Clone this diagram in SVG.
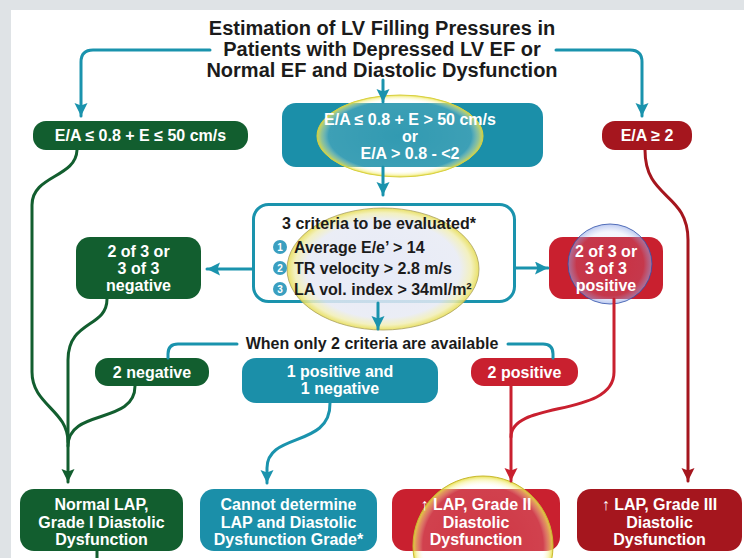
<svg xmlns="http://www.w3.org/2000/svg" width="744" height="558" viewBox="0 0 744 558">
<style>
text{font-family:"Liberation Sans",Arial,Helvetica,sans-serif;font-weight:bold;}
.t{font-size:20px;fill:#1b1b1b;text-anchor:middle;}
.b{font-size:16px;fill:#ffffff;text-anchor:middle;}
.d{font-size:16px;fill:#1b1b1b;}
.n{font-size:10px;fill:#ffffff;text-anchor:middle;}
.teal{fill:#1b8fa9;}
.green{fill:#125e2f;}
.red{fill:#c9202f;}
.dred{fill:#a5161e;}
.c{fill:none;stroke-width:3;stroke-linecap:round;stroke-linejoin:round;}
.ct{stroke:#1a93ad;}
.cg{stroke:#125e2f;}
.cr{stroke:#c9202f;}
.cd{stroke:#a5161e;}
</style>
<defs>
<marker id="aT" markerUnits="userSpaceOnUse" markerWidth="14" markerHeight="14" refX="13" refY="6.5" orient="auto"><path d="M0,0 L13,6.5 L0,13 L2.5,6.5 z" fill="#1a93ad"/></marker>
<marker id="aG" markerUnits="userSpaceOnUse" markerWidth="14" markerHeight="14" refX="13" refY="6.5" orient="auto"><path d="M0,0 L13,6.5 L0,13 L2.5,6.5 z" fill="#125e2f"/></marker>
<marker id="aR" markerUnits="userSpaceOnUse" markerWidth="14" markerHeight="14" refX="13" refY="6.5" orient="auto"><path d="M0,0 L13,6.5 L0,13 L2.5,6.5 z" fill="#c9202f"/></marker>
<marker id="aD" markerUnits="userSpaceOnUse" markerWidth="14" markerHeight="14" refX="13" refY="6.5" orient="auto"><path d="M0,0 L13,6.5 L0,13 L2.5,6.5 z" fill="#a5161e"/></marker>
<radialGradient id="hy" cx="0.5" cy="0.5" r="0.5">
<stop offset="0" stop-color="#ffffff" stop-opacity="0.10"/>
<stop offset="0.86" stop-color="#ffffff" stop-opacity="0.15"/>
<stop offset="0.95" stop-color="#f4ee80" stop-opacity="0.55"/>
<stop offset="1" stop-color="#e4dc3c" stop-opacity="0.9"/>
</radialGradient>
<radialGradient id="hc" cx="0.5" cy="0.5" r="0.5">
<stop offset="0" stop-color="#e3e7f6"/>
<stop offset="0.8" stop-color="#e7eaf4"/>
<stop offset="0.92" stop-color="#f1eeb4"/>
<stop offset="1" stop-color="#e6dc4e"/>
</radialGradient>
<radialGradient id="hb" cx="0.5" cy="0.5" r="0.5">
<stop offset="0" stop-color="#d0d8ff" stop-opacity="0.08"/>
<stop offset="0.8" stop-color="#b0c0f0" stop-opacity="0.15"/>
<stop offset="1" stop-color="#8fa6e6" stop-opacity="0.6"/>
</radialGradient>
</defs>

<!-- background -->
<rect x="0" y="0" width="744" height="558" fill="#dfe3e6"/>
<rect x="11" y="10" width="733" height="548" fill="#ffffff"/>

<!-- title -->
<g id="title">
<text class="t" x="382" y="35">Estimation of LV Filling Pressures in</text>
<text class="t" x="382" y="56">Patients with Depressed LV EF or</text>
<text class="t" x="382" y="77">Normal EF and Diastolic Dysfunction</text>
</g>

<!-- nodes -->
<g id="n-ea-low">
<rect class="green" x="33" y="121" width="215" height="29" rx="13"/>
<text class="b" x="140.5" y="141">E/A ≤ 0.8 + E ≤ 50 cm/s</text>
</g>
<g id="n-ea-mid">
<rect class="teal" x="282" y="103" width="261" height="64" rx="14"/>
<ellipse cx="400" cy="136" rx="83" ry="41" fill="url(#hy)" stroke="#d8d040" stroke-width="1"/>
<text class="b" x="410" y="125">E/A ≤ 0.8 + E &gt; 50 cm/s</text>
<text class="b" x="410" y="142">or</text>
<text class="b" x="410" y="159">E/A &gt; 0.8 - &lt;2</text>
</g>
<g id="n-ea-high">
<rect class="dred" x="602" y="121" width="90" height="29" rx="13"/>
<text class="b" x="647" y="141">E/A ≥ 2</text>
</g>
<g id="n-criteria">
<rect x="253.5" y="204.5" width="261" height="97" rx="15" fill="#ffffff" stroke="#1a93ad" stroke-width="3"/>
<ellipse cx="383" cy="269" rx="96" ry="61" fill="url(#hc)" fill-opacity="0.85" stroke="#a8a060" stroke-width="0.8"/>
<text class="d" x="379" y="229" text-anchor="middle">3 criteria to be evaluated*</text>
<circle cx="280" cy="247" r="7" fill="#3a9fc0"/>
<text class="n" x="280" y="251">1</text>
<text class="d" x="294" y="253">Average E/e’ &gt; 14</text>
<circle cx="280" cy="268" r="7" fill="#3a9fc0"/>
<text class="n" x="280" y="272">2</text>
<text class="d" x="294" y="274">TR velocity &gt; 2.8 m/s</text>
<circle cx="280" cy="289" r="7" fill="#3a9fc0"/>
<text class="n" x="280" y="293">3</text>
<text class="d" x="294" y="295">LA vol. index &gt; 34ml/m²</text>
</g>
<g id="n-neg3">
<rect class="green" x="76" y="237" width="125" height="62" rx="14"/>
<text class="b" x="138.5" y="257">2 of 3 or</text>
<text class="b" x="138.5" y="274">3 of 3</text>
<text class="b" x="138.5" y="291">negative</text>
</g>
<g id="n-pos3">
<rect class="red" x="549" y="237" width="114" height="62" rx="14"/>
<ellipse cx="610" cy="264" rx="42" ry="40" fill="url(#hb)" stroke="#2f4fa8" stroke-width="0.8"/>
<text class="b" x="606" y="257">2 of 3 or</text>
<text class="b" x="606" y="274">3 of 3</text>
<text class="b" x="606" y="291">positive</text>
</g>
<g id="n-when">
<text class="d" x="372" y="349" text-anchor="middle">When only 2 criteria are available</text>
</g>
<g id="n-neg2">
<rect class="green" x="95" y="358" width="114" height="28" rx="13"/>
<text class="b" x="152" y="378">2 negative</text>
</g>
<g id="n-mixed">
<rect class="teal" x="242" y="358" width="196" height="45" rx="14"/>
<text class="b" x="340" y="377">1 positive and</text>
<text class="b" x="340" y="394">1 negative</text>
</g>
<g id="n-pos2">
<rect class="red" x="471" y="358" width="107" height="28" rx="13"/>
<text class="b" x="524.5" y="378">2 positive</text>
</g>
<g id="n-grade1">
<rect class="green" x="20" y="489" width="163" height="62" rx="14"/>
<text class="b" x="101.5" y="510">Normal LAP,</text>
<text class="b" x="101.5" y="527.5">Grade I Diastolic</text>
<text class="b" x="101.5" y="545">Dysfunction</text>
</g>
<g id="n-undet">
<rect class="teal" x="200" y="489" width="177" height="62" rx="14"/>
<text class="b" x="288.5" y="510">Cannot determine</text>
<text class="b" x="288.5" y="527.5">LAP and Diastolic</text>
<text class="b" x="288.5" y="545">Dysfunction Grade*</text>
</g>
<g id="n-grade2">
<rect class="red" x="392" y="489" width="168" height="62" rx="14"/>
<circle cx="483" cy="546" r="70" fill="url(#hy)" stroke="#c8b830" stroke-width="1"/>
<text class="b" x="476" y="510">↑ LAP, Grade II</text>
<text class="b" x="476" y="527.5">Diastolic</text>
<text class="b" x="476" y="545">Dysfunction</text>
</g>
<g id="n-grade3">
<rect class="dred" x="577" y="489" width="165" height="62" rx="14"/>
<text class="b" x="659.5" y="510">↑ LAP, Grade III</text>
<text class="b" x="659.5" y="527.5">Diastolic</text>
<text class="b" x="659.5" y="545">Dysfunction</text>
</g>

<!-- connectors -->
<g id="connectors">
<path class="c ct" d="M210 50 H93 Q81 50 81 62 V116" marker-end="url(#aT)"/>
<path class="c ct" d="M556 50 H630 Q642 50 642 62 V116" marker-end="url(#aT)"/>
<path class="c ct" d="M383 80 V102" marker-end="url(#aT)"/>
<path class="c ct" d="M383 167 V195" marker-end="url(#aT)"/>
<path class="c ct" d="M253 269 H207" marker-end="url(#aT)"/>
<path class="c ct" d="M515 268 H548" marker-end="url(#aT)"/>
<path class="c ct" d="M378 303 V329" marker-end="url(#aT)"/>
<path class="c ct" d="M237 344 H178 Q168 344 168 354 V358"/>
<path class="c ct" d="M508 344 H543 Q553 344 553 354 V358"/>
<path class="c ct" d="M330 403 C331 448 267 432 267 468 V483" marker-end="url(#aT)"/>
<path class="c cg" d="M77 150 C76 178 32 175 32 205 V372 C32 405 68 410 68 442"/>
<path class="c cg" d="M107 299 C107 328 68 320 68 360 V482" marker-end="url(#aG)"/>
<path class="c cg" d="M135 386 C135 425 68 408 68 446"/>
<path class="c cg" d="M97 551 V558"/>
<path class="c cr" d="M511 386 V481" marker-end="url(#aR)"/>
<path class="c cr" d="M614 299 V372 C614 418 511 400 511 437"/>
<path class="c cd" d="M645 150 C645 200 688 192 688 240 V481" marker-end="url(#aD)"/>
</g>
</svg>
